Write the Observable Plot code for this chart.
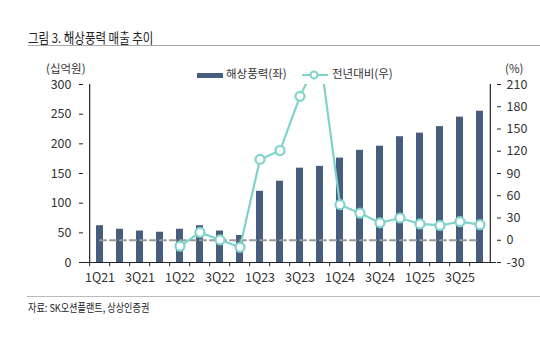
<!DOCTYPE html>
<html>
<head>
<meta charset="utf-8">
<script src="https://cdn.jsdelivr.net/npm/d3@7"></script>
<script src="https://cdn.jsdelivr.net/npm/@observablehq/plot@0.6"></script>
<style>
  body { margin: 0; background: #fff; font-family: "Noto Sans CJK KR", "Noto Sans", sans-serif; color: #333; }
  #wrap { position: relative; width: 540px; height: 344px; overflow: hidden; }
  .abs { position: absolute; white-space: nowrap; }
  #title { left: 28px; top: 29px; font-size: 13.5px; color: #222; line-height: 16px; transform: scaleX(0.85); transform-origin: left center; }
  #hr1 { left: 28px; top: 45px; width: 512px; height: 0; border-top: 1.5px solid #aaa; }
  #hr2 { left: 27px; top: 296px; width: 513px; height: 0; border-top: 1.5px solid #bbb; }
  #src { left: 28px; top: 300px; font-size: 11px; color: #222; line-height: 14px; transform: scaleX(0.83); transform-origin: left center; }
  #uL { left: 46px; top: 62px; font-size: 11.5px; color: #333; line-height: 12px; }
  #uR { left: 505px; top: 62px; font-size: 11.5px; color: #333; line-height: 12px; }
  .leg { top: 66px; font-size: 11.5px; color: #333; line-height: 15px; }
  #chart { left: 0; top: 60px; }
</style>
</head>
<body>
<div id="wrap">
  <div id="title" class="abs">그림 3. 해상풍력 매출 추이</div>
  <div id="hr1" class="abs"></div>
  <div id="uL" class="abs">(십억원)</div>
  <div id="uR" class="abs">(%)</div>
  <div id="legend"></div>
  <div id="chart" class="abs"></div>
  <div id="hr2" class="abs"></div>
  <div id="src" class="abs">자료: SK오션플랜트, 상상인증권</div>
</div>
<script>
const quarters = ["1Q21","2Q21","3Q21","4Q21","1Q22","2Q22","3Q22","4Q22","1Q23","2Q23","3Q23","4Q23","1Q24","2Q24","3Q24","4Q24","1Q25","2Q25","3Q25","4Q25"];
const sales = [62, 56, 53, 51, 56, 62, 53, 45.5, 120, 137, 159, 162, 176, 189, 196, 212, 218, 229, 245, 255];
const yoy = [null, null, null, null, -8, 10.5, 0.5, -9.5, 109, 121, 194, 250, 48, 36.5, 23.5, 30, 22, 20, 25, 21];
const xTickLabels = ["1Q21","3Q21","1Q22","3Q22","1Q23","3Q23","1Q24","3Q24","1Q25","3Q25"];
const leftTicks = [0, 50, 100, 150, 200, 250, 300];
const rightTicks = [-30, 0, 30, 60, 90, 120, 150, 180, 210];
const seriesNames = ["해상풍력(좌)", "전년대비(우)"];

const barColor = "#475d7e";
const lineColor = "#7fd3ca";
const rightMin = -30, rightMax = 210, leftMax = 300;
const toLeft = v => (v - rightMin) * leftMax / (rightMax - rightMin);

const barData = quarters.map((q, i) => ({q, v: sales[i]}));
const lineData = quarters.map((q, i) => ({q, v: yoy[i]})).filter(d => d.v != null);

const W = 540, mL = 83, mR = 44, mT = 24, mB = 30, H = mT + 178 + mB;
const step = (W - mL - mR) / quarters.length;

const plot = Plot.plot({
  width: W, height: H,
  marginLeft: mL, marginRight: mR, marginTop: mT, marginBottom: mB,
  style: {fontFamily: "'Noto Sans CJK KR', 'Noto Sans', sans-serif", fontSize: "12px", color: "#333", background: "transparent"},
  x: {type: "band", domain: quarters, paddingInner: 0.66, paddingOuter: 0.33, axis: null},
  y: {type: "linear", domain: [0, leftMax], axis: null},
  marks: [
    Plot.barY(barData, {x: "q", y: "v", fill: barColor}),
    // left axis line + ticks
    Plot.ruleX([quarters[0]], {x: d => d, dx: -step / 2, y1: () => 0, y2: () => leftMax, stroke: "#222", strokeWidth: 1.2}),
    Plot.axisY({anchor: "left", label: null, ticks: leftTicks, tickSize: 4, tickPadding: 8, stroke: "#222", fontSize: 12.5}),
    // right axis line + ticks
    Plot.ruleX([quarters[quarters.length - 1]], {x: d => d, dx: step / 2, y1: () => 0, y2: () => leftMax, stroke: "#222", strokeWidth: 1.2}),
    Plot.axisY({anchor: "right", label: null, ticks: rightTicks.map(toLeft), tickFormat: (d) => String(Math.round(d * (rightMax - rightMin) / leftMax + rightMin)), tickSize: 4, tickPadding: 6, stroke: "#222", fontSize: 12.5}),
    // x axis line
    Plot.ruleY([0], {stroke: "#222", strokeWidth: 1.2}),
    // boundary tick marks below the axis
    Plot.ruleX(quarters, {x: d => d, dx: -step / 2, y1: () => 0, y2: () => -7, stroke: "#222", strokeWidth: 1}),
    Plot.text(xTickLabels, {x: d => d, y: () => 0, dy: 15, text: d => d, fontSize: 12.5, fill: "#333"}),
    // zero line of the right axis (dashed)
    Plot.line([quarters[0], quarters[quarters.length - 1]], {x: d => d, y: () => toLeft(0), stroke: "#999", strokeWidth: 2, strokeDasharray: "6,4"}),
    // yoy line
    Plot.line(lineData, {x: "q", y: d => toLeft(d.v), stroke: lineColor, strokeWidth: 2.2, clip: true}),
    Plot.dot(lineData, {x: "q", y: d => toLeft(d.v), r: 4.5, fill: "white", stroke: lineColor, strokeWidth: 2.2, clip: true})
  ]
});
document.getElementById("chart").appendChild(plot);

// legend (HTML + tiny svg swatches)
const legend = document.getElementById("legend");
const mk = (html, left) => { const d = document.createElement("div"); d.className = "abs leg"; d.style.left = left + "px"; d.innerHTML = html; legend.appendChild(d); };
mk(`<svg width="26" height="10" style="vertical-align:middle;margin-right:3px"><rect x="0" y="3" width="26" height="5" fill="${barColor}"/></svg>${seriesNames[0]}`, 197);
mk(`<svg width="26" height="12" style="vertical-align:middle;margin-right:4px"><line x1="0" y1="6" x2="26" y2="6" stroke="${lineColor}" stroke-width="2"/><circle cx="12" cy="6" r="3.5" fill="white" stroke="${lineColor}" stroke-width="2"/></svg>${seriesNames[1]}`, 302);
</script>
</body>
</html>
